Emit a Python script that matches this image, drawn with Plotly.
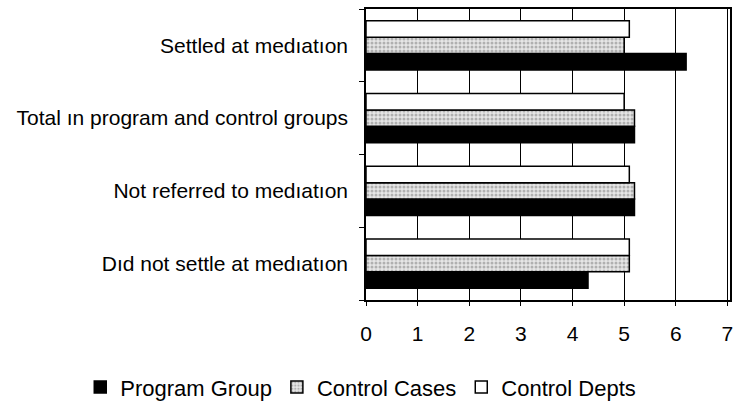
import plotly.graph_objects as go

# Categories listed bottom-to-top (Plotly draws the first category at the bottom)
categories = [
    "Dıd not settle at medıatıon",
    "Not referred to medıatıon",
    "Total ın program and control groups",
    "Settled at medıatıon",
]
program_group = [4.3, 5.2, 5.2, 6.2]
control_cases = [5.1, 5.2, 5.2, 5.0]
control_depts = [5.1, 5.1, 5.0, 5.1]
x_ticks = [0, 1, 2, 3, 4, 5, 6, 7]

FONT = "Arial, Liberation Sans, sans-serif"
outline = dict(color="black", width=1.5)

fig = go.Figure()
fig.add_trace(go.Bar(
    y=categories, x=program_group, orientation="h", name="Program Group",
    marker=dict(color="black", line=outline),
))
fig.add_trace(go.Bar(
    y=categories, x=control_cases, orientation="h", name="Control Cases",
    marker=dict(color="#d8d8d8", line=outline,
                pattern=dict(shape=".", fgcolor="#7a7a7a", bgcolor="#e6e6e6",
                             size=4, solidity=0.45)),
))
fig.add_trace(go.Bar(
    y=categories, x=control_depts, orientation="h", name="Control Depts",
    marker=dict(color="white", line=outline),
))

fig.update_layout(
    width=735, height=411,
    margin=dict(l=366, r=3, t=9, b=108),
    paper_bgcolor="white", plot_bgcolor="white",
    barmode="group", bargap=0.32, bargroupgap=0.0,
    font=dict(family=FONT, size=21, color="black"),
    legend=dict(
        orientation="h", xref="paper", yref="paper",
        x=-0.785, xanchor="left", y=-0.30, yanchor="middle",
        traceorder="normal", font=dict(size=22, family=FONT),
        itemwidth=30, tracegroupgap=0,
    ),
    showlegend=True,
)
fig.update_xaxes(
    range=[0, 7.05], tickvals=x_ticks, ticktext=[str(v) for v in x_ticks],
    showgrid=True, gridcolor="black", gridwidth=1,
    showline=True, linecolor="black", linewidth=1.5, mirror=True,
    ticks="outside", ticklen=4, tickcolor="black",
    ticklabelstandoff=10, zeroline=False,
    tickfont=dict(size=21, family=FONT),
)
fig.update_yaxes(
    categoryorder="array", categoryarray=categories,
    showline=True, linecolor="black", linewidth=1.5, mirror=True,
    ticks="outside", ticklen=5, tickcolor="black", tickson="boundaries",
    ticklabelstandoff=12, showgrid=False,
    tickfont=dict(size=21, family=FONT),
)

fig.write_html("out.html")
